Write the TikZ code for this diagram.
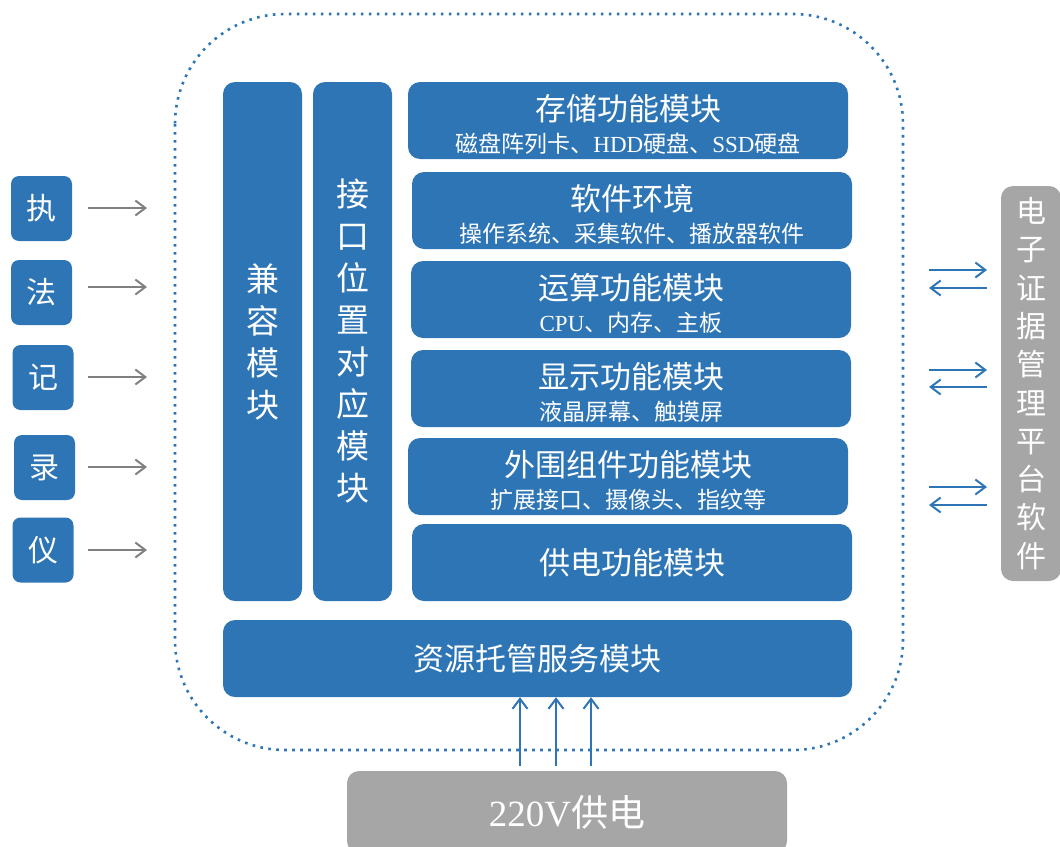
\documentclass[tikz,border=0pt]{standalone}
\usepackage{fontspec}
\setmainfont{Liberation Serif}
\newfontfamily\cjk{Noto Sans CJK SC}
\usetikzlibrary{arrows.meta}
\definecolor{mblue}{RGB}{46,117,182}
\definecolor{mgray}{RGB}{166,166,166}
\definecolor{agray}{RGB}{128,128,128}
\newcommand\lat[1]{{\rmfamily #1}}
\begin{document}
\begin{tikzpicture}[x=1pt,y=-1pt,
  blk/.style={fill=mblue, rounded corners=12pt, text=white, inner sep=0pt, align=center,
    font=\cjk\fontsize{31}{32}\selectfont},
  vblk/.style={blk, font=\cjk\fontsize{33}{42}\selectfont},
  lblk/.style={fill=mblue, rounded corners=8pt, text=white, inner sep=0pt,
    minimum width=61pt, minimum height=65pt, font=\cjk\fontsize{30}{30}\selectfont},
  gblk/.style={fill=mgray, rounded corners=12pt, text=white, inner sep=0pt, align=center},
  garrow/.style={draw=agray, line width=2pt, -{Straight Barb[length=10pt,width=15pt]}},
  barrow/.style={draw=mblue, line width=2pt, -{Straight Barb[length=10pt,width=15pt]}},
]
\useasboundingbox (0,0) rectangle (1060,846);

% dotted frame
\draw[mblue, line width=2.6pt, dash pattern=on 2.6pt off 5.4pt, rounded corners=110pt]
  (175,14) rectangle (903,750);

% vertical modules
\node[vblk, minimum width=79pt, minimum height=519pt] (jr) at (262.5,341.5) {兼\\容\\模\\块};
\node[vblk, minimum width=79pt, minimum height=519pt] (jk) at (352.5,341.5) {接\\口\\位\\置\\对\\应\\模\\块};

% functional modules
\newcommand\subt[1]{{\fontsize{23}{23}\selectfont #1}}
\newcommand\tstrut{\rule{0pt}{33pt}}
\node[blk, minimum width=440pt, minimum height=77pt] (m1) at (628,120.5)
  {\tstrut 存储功能模块\\\subt{磁盘阵列卡、\lat{HDD}硬盘、\lat{SSD}硬盘}};
\node[blk, minimum width=440pt, minimum height=77pt] (m2) at (632,210.5)
  {\tstrut 软件环境\\\subt{操作系统、采集软件、播放器软件}};
\node[blk, minimum width=440pt, minimum height=77pt] (m3) at (631,299.5)
  {\tstrut 运算功能模块\\\subt{\lat{CPU}、内存、主板}};
\node[blk, minimum width=440pt, minimum height=77pt] (m4) at (631,388.5)
  {\tstrut 显示功能模块\\\subt{液晶屏幕、触摸屏}};
\node[blk, minimum width=440pt, minimum height=77pt] (m5) at (628,476.5)
  {\tstrut 外围组件功能模块\\\subt{扩展接口、摄像头、指纹等}};
\node[blk, minimum width=440pt, minimum height=77pt] (m6) at (632,562.5) {供电功能模块};

% resource hosting
\node[blk, minimum width=629pt, minimum height=77pt] (rs) at (537.5,658.5) {资源托管服务模块};

% power supply
\node[gblk, minimum width=440pt, minimum height=82pt, font=\fontsize{37}{37}\selectfont] (pw) at (567,812)
  {220V{\cjk 供电}};

% left recorder boxes
\node[lblk] (l1) at (41.5,208.5) {执};
\node[lblk] (l2) at (41.5,292.5) {法};
\node[lblk] (l3) at (43,377.5) {记};
\node[lblk] (l4) at (44.5,467.5) {录};
\node[lblk] (l5) at (43,550) {仪};

% right platform
\node[gblk, minimum width=60pt, minimum height=395pt, font=\cjk\fontsize{30}{38.3}\selectfont] (pf) at (1031,383.5)
  {电\\子\\证\\据\\管\\理\\平\\台\\软\\件};

% left arrows
\foreach \i/\y in {1/208,2/287,3/377,4/467,5/550}{
  \coordinate (ls\i) at (88,\y);
  \coordinate (la\i) at (147,\y);
  \draw[garrow] (ls\i) -- (la\i);
}

% right arrows
\foreach \i/\ya/\yb in {1/270/288,2/370/387,3/487/505}{
  \coordinate (ra\i) at (929,\ya);
  \coordinate (rb\i) at (987,\yb);
  \draw[barrow] (ra\i) -- (987,\ya);
  \draw[barrow] (rb\i) -- (929,\yb);
}

% bottom arrows
\foreach \x in {520,556,591}{
  \draw[barrow] (\x,0 |- pw.north) ++(0,-5) -- (\x,0 |- rs.south) ;
}
\end{tikzpicture}
\end{document}
